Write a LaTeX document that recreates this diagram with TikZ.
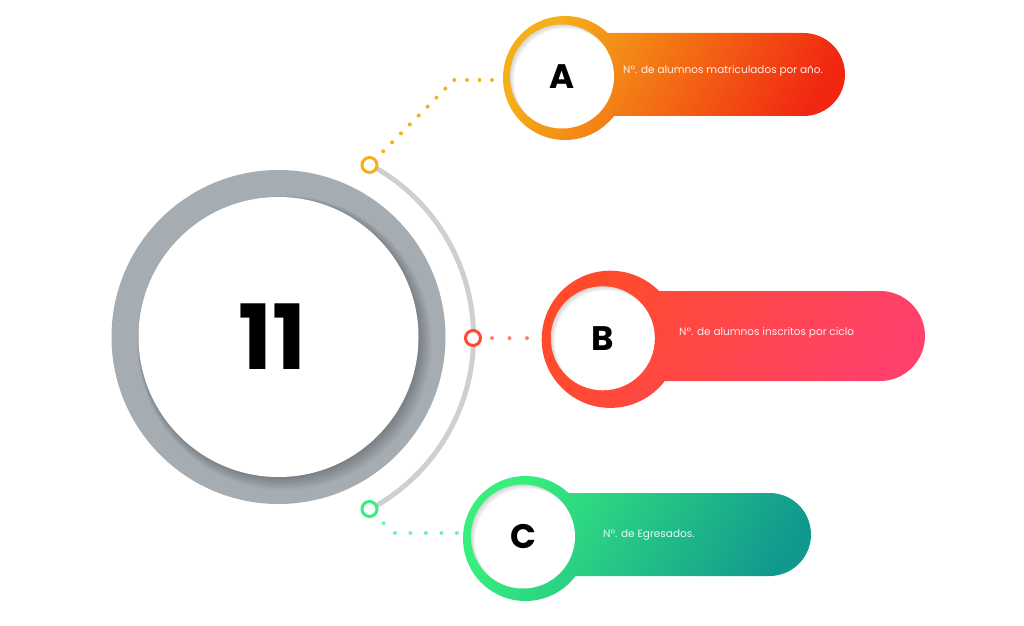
\documentclass[tikz,border=0pt]{standalone}
\usepackage{fontspec}
\setmainfont{Poppins}
\usepackage{tikz}
\usetikzlibrary{shapes}

\definecolor{flareY}{HTML}{F5AF19}
\definecolor{flareR}{HTML}{F12711}
\definecolor{shiftR}{HTML}{FF4B2B}
\definecolor{shiftP}{HTML}{FF416C}
\definecolor{quepalG}{HTML}{38EF7D}
\definecolor{quepalT}{HTML}{11998E}
\definecolor{hubgray}{HTML}{A5ADB3}
\definecolor{arcgray}{HTML}{CFCFCF}

\begin{document}
\begin{tikzpicture}[x=1pt, y=1pt,
        hub/.style = {circle, fill=white, minimum size=280pt, inner sep=0pt, font=\fontsize{90}{90}\selectfont\bfseries},
        letter/.style = {circle, fill=white, minimum size=104pt, inner sep=0pt, font=\fontsize{34}{34}\selectfont\bfseries},
        stud/.style = {circle, fill=white, line width=3pt, minimum size=15pt, inner sep=0pt},
        desc/.style = {anchor=west, inner sep=0pt, text=white, text opacity=.9, font=\fontsize{10.5}{13}\selectfont},
        dots/.style = {line width=4pt, line cap=round, dash pattern=on 0pt off #1}]
                \useasboundingbox (0,0) rectangle (1024,625);

                \draw[arcgray, line width=5pt] (278.5,288) ++(62:195) arc[start angle=62, end angle=-62, radius=195];

                \fill[hubgray] (278.5,288) circle (167);
                \foreach \s in {1,...,8}
                        \fill[black, opacity=.03] (279.5+\s*0.6, 287-\s*0.6) circle (139+\s);
                \node[hub] (hub) at (278.5,288) {\kern-12pt11};

                \shade[left color=flareY, right color=flareR, shading angle=60] (565,547) circle (62) (565,509) -- (803.5,509) arc[start angle=-90, end angle=90, radius=41.5] -- (565,592) -- cycle;
                \shade[left color=shiftR, right color=shiftP, shading angle=60] (610.3,285.7) circle (68.6) (610.3,244) -- (880,244) arc[start angle=-90, end angle=90, radius=45] -- (610.3,334) -- cycle;
                \shade[left color=quepalG, right color=quepalT, shading angle=60] (525.5,86.5) circle (62.5) (525.5,49) -- (769.5,49) arc[start angle=-90, end angle=90, radius=41.5] -- (525.5,132) -- cycle;

                \node[letter] (A) at (562,548.5) {A};
                \node[letter] (B) at (602.8,286.7) {B};
                \node[letter] (C) at (523,88.5) {C};

                \foreach \n in {A, B, C} {
                        \begin{scope}
                                \clip (\n.center) circle (52);
                                \foreach \s in {1,...,4}
                                        \fill[black, opacity=.04, even odd rule] (\n.center) circle (60) ([shift={(\s,-\s)}]\n.center) circle (52);
                        \end{scope}
                }

                \node[stud, draw=flareY] (sA) at (369.5,460) {};
                \node[stud, draw=shiftR] (sB) at (473,287) {};
                \node[stud, draw=quepalG] (sC) at (369.5,116) {};

                \coordinate (kA) at (454,545);
                \coordinate (kC) at (393,92);

                \draw[dots=12.6pt, flareY, shorten <=10.4pt, shorten >=16.5pt] (sA.45) -- (kA) -- (kA -| A.west);
                \draw[dots=17.5pt, shiftR!70, shorten <=10pt, shorten >=23pt] (sB) -- (B);
                \draw[dots=15.5pt, quepalG!70, shorten <=11pt, shorten >=10pt] (sC.-45) -- (kC) -- (kC -| C.west);

                \node[desc] (tA) at (623,554) {Nº. de alumnos matriculados por año.};
                \node[desc] (tB) at (679,292) {Nº. de alumnos inscritos por ciclo};
                \node[desc] (tC) at (603,90) {Nº. de Egresados.};
\end{tikzpicture}
\end{document}
